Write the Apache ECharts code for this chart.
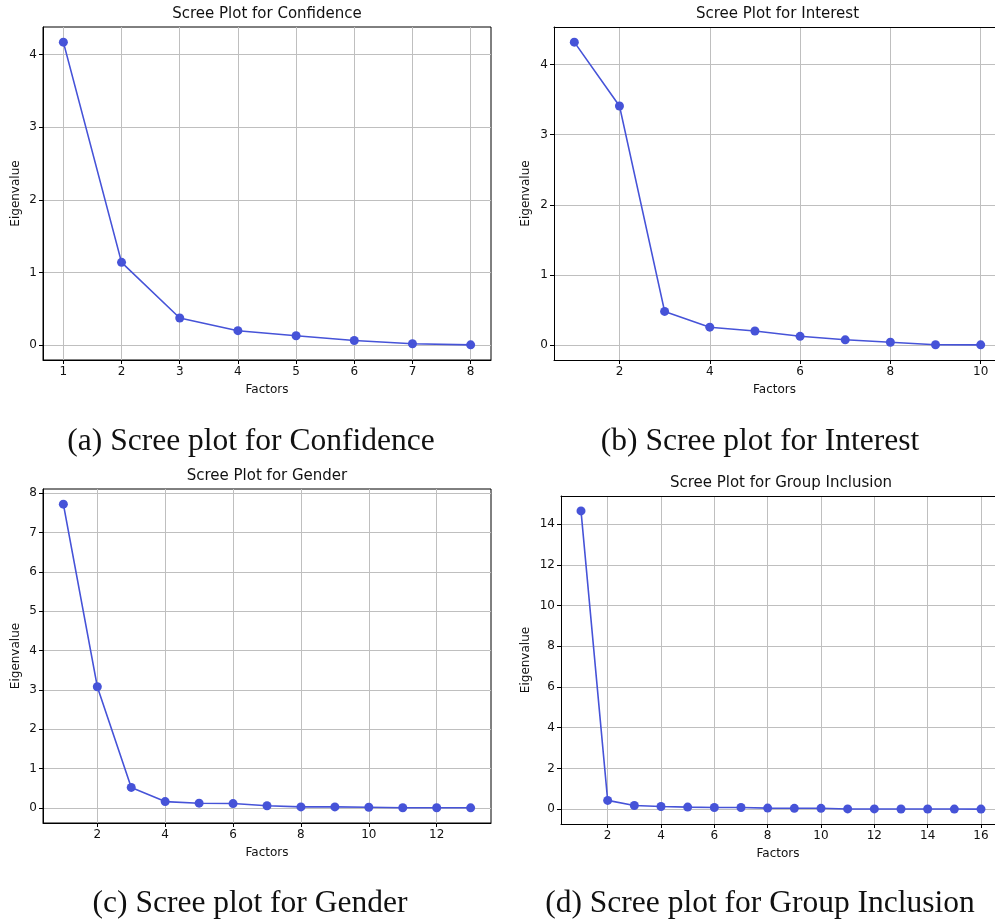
<!DOCTYPE html>
<html>
<head>
<meta charset="utf-8">
<script src="https://cdn.jsdelivr.net/npm/echarts@6/dist/echarts.min.js"></script>
<style>
html,body{margin:0;padding:0;background:#fff;}
#chart{width:995px;height:919px;}
</style>
</head>
<body>
<div id="chart"></div>
<script>
// ---- data ----
const factorsA = [1, 2, 3, 4, 5, 6, 7, 8];
const eigenA = [4.17, 1.14, 0.375, 0.20, 0.13, 0.065, 0.02, 0.005];

const factorsB = [1, 2, 3, 4, 5, 6, 7, 8, 9, 10];
const eigenB = [4.32, 3.41, 0.48, 0.255, 0.20, 0.125, 0.075, 0.04, 0.005, 0.003];

const factorsC = [1, 2, 3, 4, 5, 6, 7, 8, 9, 10, 11, 12, 13];
const eigenC = [7.72, 3.08, 0.52, 0.16, 0.12, 0.11, 0.055, 0.025, 0.025, 0.017, 0.005, 0.003, 0.002];

const factorsD = [1, 2, 3, 4, 5, 6, 7, 8, 9, 10, 11, 12, 13, 14, 15, 16];
const eigenD = [14.65, 0.43, 0.18, 0.13, 0.10, 0.08, 0.08, 0.05, 0.04, 0.04, 0.01, 0.01, 0.008, 0.005, 0.003, 0.002];

const xTicksA = [1, 2, 3, 4, 5, 6, 7, 8];
const yTicksA = [0, 1, 2, 3, 4];
const xTicksB = [2, 4, 6, 8, 10];
const yTicksB = [0, 1, 2, 3, 4];
const xTicksC = [2, 4, 6, 8, 10, 12];
const yTicksC = [0, 1, 2, 3, 4, 5, 6, 7, 8];
const xTicksD = [2, 4, 6, 8, 10, 12, 14, 16];
const yTicksD = [0, 2, 4, 6, 8, 10, 12, 14];

const plotTitles = ['Scree Plot for Confidence', 'Scree Plot for Interest', 'Scree Plot for Gender', 'Scree Plot for Group Inclusion'];
const captions = ['(a) Scree plot for Confidence', '(b) Scree plot for Interest', '(c) Scree plot for Gender', '(d) Scree plot for Group Inclusion'];

// ---- layout ----
// fullWidth: matplotlib axes width; visible part is cut at the right page edge for (b) and (d)
const panels = [
  { xs: factorsA, ys: eigenA, xt: xTicksA, yt: yTicksA, left: 43, top: 27, fullWidth: 448, height: 333, nameGap: 21, titleY: 14, capX: 251, capY: 442 },
  { xs: factorsB, ys: eigenB, xt: xTicksB, yt: yTicksB, left: 554, top: 27, fullWidth: 447, height: 333, nameGap: 22, titleY: 14, capX: 760, capY: 442 },
  { xs: factorsC, ys: eigenC, xt: xTicksC, yt: yTicksC, left: 43, top: 489, fullWidth: 448, height: 334, nameGap: 21, titleY: 476, capX: 250, capY: 904 },
  { xs: factorsD, ys: eigenD, xt: xTicksD, yt: yTicksD, left: 561, top: 496, fullWidth: 440, height: 328, nameGap: 29, titleY: 483, capX: 760, capY: 904 }
];
const pageWidth = 995;

const lineColor = '#4653d8';
const textColor = '#111';
const gridColor = '#bfbfbf';
const sansFont = 'DejaVu Sans';

function pad(arr) {
  const lo = Math.min.apply(null, arr), hi = Math.max.apply(null, arr);
  const m = (hi - lo) * 0.05;
  return [lo - m, hi + m];
}

const grids = [], xAxes = [], yAxes = [], series = [], graphics = [];
panels.forEach(function (p, i) {
  const visWidth = Math.min(p.fullWidth, pageWidth - p.left);
  const cut = visWidth < p.fullWidth;
  grids.push({ left: p.left, top: p.top, width: visWidth, height: p.height, show: !cut, borderColor: '#000', borderWidth: 1, backgroundColor: 'transparent', containLabel: false });
  const xr = pad(p.xs), yr = pad(p.ys);
  const xMaxVis = xr[0] + (xr[1] - xr[0]) * visWidth / p.fullWidth;
  const xIdx = xAxes.length;
  xAxes.push({
    type: 'value', gridIndex: i, min: xr[0], max: xMaxVis, position: 'bottom',
    name: 'Factors', nameLocation: 'middle', nameGap: 24,
    nameTextStyle: { fontFamily: sansFont, fontSize: 12, color: textColor },
    axisLine: { show: true, onZero: false, lineStyle: { color: '#000', width: 1 } },
    axisTick: { show: true, length: 4, customValues: p.xt, lineStyle: { color: '#000' } },
    axisLabel: { customValues: p.xt, margin: 6, fontFamily: sansFont, fontSize: 12, color: textColor },
    splitLine: { show: true, customValues: p.xt, lineStyle: { color: gridColor, width: 1 } }
  });
  if (cut) {
    // top spine of the axes
    xAxes.push({
      type: 'value', gridIndex: i, min: xr[0], max: xMaxVis, position: 'top',
      axisLine: { show: true, onZero: false, lineStyle: { color: '#000', width: 1 } },
      axisTick: { show: false }, axisLabel: { show: false }, splitLine: { show: false }
    });
  }
  yAxes.push({
    type: 'value', gridIndex: i, min: yr[0], max: yr[1],
    name: 'Eigenvalue', nameLocation: 'middle', nameGap: p.nameGap,
    nameTextStyle: { fontFamily: sansFont, fontSize: 12, color: textColor },
    axisLine: { show: true, onZero: false, lineStyle: { color: '#000', width: 1 } },
    axisTick: { show: true, length: 4, customValues: p.yt, lineStyle: { color: '#000' } },
    axisLabel: { customValues: p.yt, margin: 6, fontFamily: sansFont, fontSize: 12, color: textColor },
    splitLine: { show: true, customValues: p.yt, lineStyle: { color: gridColor, width: 1 } }
  });
  series.push({
    type: 'line', xAxisIndex: xIdx, yAxisIndex: i,
    data: p.xs.map(function (x, k) { return [x, p.ys[k]]; }),
    symbol: 'circle', symbolSize: 9, showSymbol: true,
    lineStyle: { color: lineColor, width: 1.6 },
    itemStyle: { color: lineColor },
    animation: false, clip: false
  });
  const cx = p.left + p.fullWidth / 2;
  graphics.push({
    type: 'text', x: cx, y: p.titleY,
    style: { text: plotTitles[i], fontFamily: sansFont, fontSize: 15, fill: textColor, align: 'center', verticalAlign: 'middle' }
  });
  graphics.push({
    type: 'text', x: p.capX, y: p.capY,
    style: { text: captions[i], fontFamily: 'Liberation Serif', fontSize: 31.5, fill: '#111', align: 'center', verticalAlign: 'middle' }
  });
});

const chart = echarts.init(document.getElementById('chart'), null, { renderer: 'canvas' });
chart.setOption({
  animation: false,
  backgroundColor: '#fff',
  grid: grids,
  xAxis: xAxes,
  yAxis: yAxes,
  series: series,
  graphic: graphics
});
</script>
</body>
</html>
